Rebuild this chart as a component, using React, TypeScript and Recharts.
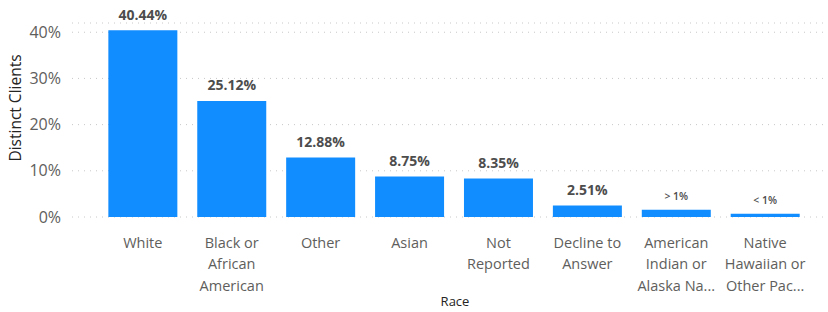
import React from 'react';
import { BarChart, Bar, XAxis, YAxis, CartesianGrid, LabelList } from 'recharts';

const categories = ['White', 'Black or African American', 'Other', 'Asian', 'Not Reported', 'Decline to Answer', 'American Indian or Alaska Native', 'Native Hawaiian or Other Pacific Islander'];
const shares = [0.4044, 0.2512, 0.1288, 0.0875, 0.0835, 0.0251, 0.0155, 0.007];
const valueLabels = ['40.44%', '25.12%', '12.88%', '8.75%', '8.35%', '2.51%', '> 1%', '< 1%'];
const tickLines = [
  ['White'],
  ['Black or', 'African', 'American'],
  ['Other'],
  ['Asian'],
  ['Not', 'Reported'],
  ['Decline to', 'Answer'],
  ['American', 'Indian or', 'Alaska Na...'],
  ['Native', 'Hawaiian or', 'Other Pac...'],
];
const yTicks = [0, 0.1, 0.2, 0.3, 0.4];

const data = categories.map((c, i) => ({ category: c, value: shares[i], label: valueLabels[i] }));

const FONT = '"Segoe UI", "Open Sans", "Noto Sans", sans-serif';

const XTick = (props: any) => {
  const { x, y, index } = props;
  const lines = tickLines[index] || [];
  return (
    <g>
      {lines.map((l: string, i: number) => (
        <text key={i} x={x} y={y + 23.5 + i * 21.3} textAnchor="middle" dominantBaseline="central" fill="#605E5C" fontSize={14.5} fontFamily={FONT}>
          {l}
        </text>
      ))}
    </g>
  );
};

const DataLabel = (props: any) => {
  const { x, y, width, index } = props;
  const small = index >= 6;
  return (
    <text
      x={x + width / 2}
      y={y - (small ? 13.5 : 16)}
      textAnchor="middle"
      dominantBaseline="central"
      fill="#4D4D4D"
      fontSize={small ? 10.5 : 14}
      fontWeight={small ? 600 : 700}
      fontFamily={FONT}
    >
      {valueLabels[index]}
    </text>
  );
};

export default function App() {
  return (
    <div style={{ position: 'absolute', left: 0, top: 0, width: 828, height: 312, background: '#fff' }}>
      <BarChart width={828} height={312} data={data} margin={{ top: 23, right: 0, bottom: 0, left: 0 }}>
        <CartesianGrid vertical={false} stroke="#C8C8C8" strokeDasharray="1 5" />
        <XAxis
          dataKey="category"
          interval={0}
          axisLine={false}
          tickLine={false}
          tickSize={0}
          height={95}
          padding={{ left: 26.35, right: 18.4 }}
          tick={<XTick />}
        />
        <YAxis
          width={72}
          domain={[0, 0.42]}
          ticks={yTicks}
          axisLine={false}
          tickLine={false}
          tickSize={0}
          tickMargin={11}
          tickFormatter={(v: number) => `${Math.round(v * 100)}%`}
          tick={{ fill: '#605E5C', fontSize: 16, fontFamily: FONT }}
        />
        <Bar dataKey="value" fill="#118DFF" barSize={69} isAnimationActive={false}>
          <LabelList dataKey="label" content={<DataLabel />} />
        </Bar>
        <text x={15} y={108} transform="rotate(-90 15 108)" textAnchor="middle" dominantBaseline="central" fill="#252423" fontSize={15.5} fontFamily={FONT}>
          Distinct Clients
        </text>
        <text x={455} y={301} textAnchor="middle" dominantBaseline="central" fill="#252423" fontSize={13} fontFamily={FONT}>
          Race
        </text>
      </BarChart>
    </div>
  );
}
